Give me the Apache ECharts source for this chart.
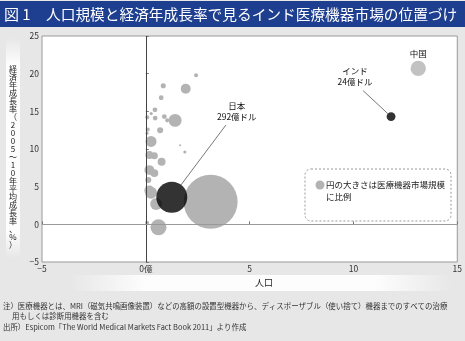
<!DOCTYPE html>
<html>
<head>
<meta charset="utf-8">
<script src="https://cdn.jsdelivr.net/npm/echarts@6/dist/echarts.min.js"></script>
<style>
  html, body { margin: 0; padding: 0; background: #e7e7e7; }
  #chart { width: 465px; height: 341px; }
</style>
</head>
<body>
<div id="chart"></div>
<script>
// Population (100 million), annual growth 2005-10 (%), medical device market (100 million USD)
const otherPop    = [2.42, 0.84, 1.92, 0.74, 0.44, 0.26, 0.07, 0.45, 0.89, 1.03, 1.41, 0.09, 0.06, 0.69, 0.25, 1.65, 1.88, 0.17, 0.41, 0.76, 0.17, 0.41, 0.12, 0.17, 0.25, 0.50, 3.12, 0.61, 0.06];
const otherGrowth = [19.8, 18.4, 18.0, 16.8, 15.2, 14.7, 14.2, 14.1, 14.3, 13.8, 13.8, 12.6, 12.1, 12.5, 11.0, 10.5, 9.6, 9.2, 9.1, 8.3, 7.2, 6.8, 5.9, 4.5, 4.2, 2.7, 3.0, -0.4, 0.2];
const otherMarket = [5, 8, 30, 7, 7, 3, 5, 7, 7, 5, 51, 5, 3, 11, 37, 1.2, 3, 19, 15, 19, 30, 19, 11, 30, 44, 44, 886, 78, 5];

const namedCountries = ['中国', 'インド', '日本'];
const namedPop       = [13.12, 11.81, 1.25];
const namedGrowth    = [20.7, 14.3, 3.6];
const namedMarket    = [72, 24, 292];
const namedShowValue = [false, true, true];

const xTicks = [-5, 0, 5, 10, 15];
const yTicks = [-5, 0, 5, 10, 15, 20, 25];

const yAxisTitle = '経済年成長率（2005～10年平均成長率、%）';
const xAxisTitle = '人口';
const figureNo = '図 1';
const chartTitle = '人口規模と経済年成長率で見るインド医療機器市場の位置づけ';
const legendText = ['円の大きさは医療機器市場規模', 'に比例'];
const notes = [
  '注）医療機器とは、MRI（磁気共鳴画像装置）などの高額の設置型機器から、ディスポーザブル（使い捨て）機器までのすべての治療',
  '　 用もしくは診断用機器を含む',
  '出所）Espicom「The World Medical Markets Fact Book 2011」より作成'
];

const FONT = '"Noto Sans CJK JP", "Noto Sans", sans-serif';
const GRAY = '#b3b3b3';
const sizeOf = v => 1.814 * Math.sqrt(v);   // bubble area proportional to market size

const others = otherPop.map((x, i) => [x, otherGrowth[i], otherMarket[i]]);
const named = namedPop.map((x, i) => ({
  name: namedCountries[i],
  value: [x, namedGrowth[i], namedMarket[i]],
  itemStyle: { color: i === 0 ? GRAY : '#000' }
}));

const chart = echarts.init(document.getElementById('chart'), null, { renderer: 'canvas' });

chart.setOption({
  backgroundColor: '#e7e7e7',
  animation: false,
  grid: {
    left: 42, right: 5, top: 36, bottom: 79,
    show: true, backgroundColor: '#fff', borderColor: '#9a9a9a', borderWidth: 1
  },
  xAxis: {
    type: 'value', min: -5, max: 15, interval: 5,
    axisLine: { show: false },
    axisTick: { show: true, inside: true, length: 3, lineStyle: { color: '#777' } },
    splitLine: { show: false },
    axisLabel: {
      color: '#333', fontSize: 8.5, fontFamily: FONT, margin: 3,
      formatter: v => (xTicks.includes(v) ? (v === 0 ? '0億' : String(v).replace('-', '−')) : '')
    }
  },
  yAxis: {
    type: 'value', min: -5, max: 25, interval: 5,
    axisLine: { show: false },
    axisTick: { show: true, inside: true, length: 3, lineStyle: { color: '#777' } },
    splitLine: { show: false },
    axisLabel: {
      color: '#333', fontSize: 8.5, fontFamily: FONT, margin: 3,
      formatter: v => (yTicks.includes(v) ? String(v).replace('-', '−') : '')
    }
  },
  series: [
    {
      type: 'scatter',
      data: others,
      symbolSize: d => sizeOf(d[2]),
      itemStyle: { color: GRAY, opacity: 1 },
      silent: true, z: 2
    },
    {
      type: 'scatter',
      data: named,
      symbolSize: d => sizeOf(d[2]),
      silent: true, z: 3
    },
    {
      type: 'scatter',
      data: [],
      z: 5,
      markLine: {
        silent: true, symbol: 'none', label: { show: false }, animation: false,
        data: [
          { xAxis: 0, lineStyle: { color: '#444', width: 1, type: 'solid' } },
          { yAxis: 0, lineStyle: { color: '#999', width: 1.2, type: 'solid' } }
        ]
      }
    }
  ]
});

// Static decorations and annotations placed from the axes' own coordinate conversion
const px = (x, y) => chart.convertToPixel({ gridIndex: 0 }, [x, y]);

const graphics = [
  { type: 'rect', z: -1, shape: { x: 0, y: 1, width: 465, height: 26 }, style: { fill: '#1e3f8f' } },
  {
    type: 'text', x: 4, y: 14.5,
    style: { text: figureNo, fill: '#fff', fontSize: 15, fontFamily: FONT, align: 'left', verticalAlign: 'middle' }
  },
  {
    type: 'text', x: 46, y: 14.5,
    style: { text: chartTitle, fill: '#fff', fontSize: 14.7, fontFamily: FONT, align: 'left', verticalAlign: 'middle' }
  },
  {
    type: 'rect', z: -1, shape: { x: 6, y: 38, width: 14, height: 220 },
    style: {
      fill: new echarts.graphic.LinearGradient(0, 0, 0, 1, [
        { offset: 0, color: '#e7e7e7' }, { offset: 0.12, color: '#fdfdfd' },
        { offset: 0.88, color: '#fdfdfd' }, { offset: 1, color: '#e7e7e7' }
      ])
    }
  },
  {
    type: 'text', x: 13, y: 157,
    style: {
      text: Array.from(yAxisTitle).join('\n'), fill: '#222', fontSize: 8, lineHeight: 8,
      fontFamily: FONT, align: 'center', verticalAlign: 'middle'
    }
  },
  {
    type: 'rect', z: -1, shape: { x: 70, y: 275, width: 382, height: 16 },
    style: {
      fill: new echarts.graphic.LinearGradient(0, 0, 1, 0, [
        { offset: 0, color: '#e7e7e7' }, { offset: 0.2, color: '#fdfdfd' },
        { offset: 0.8, color: '#fdfdfd' }, { offset: 1, color: '#e7e7e7' }
      ])
    }
  },
  {
    type: 'text', x: 264, y: 283,
    style: { text: xAxisTitle, fill: '#222', fontSize: 9, fontFamily: FONT, align: 'center', verticalAlign: 'middle' }
  }
];

notes.forEach((t, i) => {
  graphics.push({
    type: 'text', x: 3, y: 306 + i * 10.5,
    style: { text: t, fill: '#333', fontSize: 7.45, fontFamily: FONT, align: 'left', verticalAlign: 'middle' }
  });
});

// Legend box
graphics.push(
  {
    type: 'rect', z: 10, shape: { x: 305, y: 169, width: 146, height: 52, r: 6 },
    style: { fill: '#fff', stroke: '#9a9a9a', lineWidth: 1, lineDash: [2, 2] }
  },
  { type: 'circle', z: 11, shape: { cx: 320, cy: 185, r: 4.5 }, style: { fill: GRAY } },
  {
    type: 'text', z: 11, x: 326, y: 185,
    style: { text: legendText[0], fill: '#222', fontSize: 8.5, fontFamily: FONT, align: 'left', verticalAlign: 'middle' }
  },
  {
    type: 'text', z: 11, x: 326, y: 197,
    style: { text: legendText[1], fill: '#222', fontSize: 8.5, fontFamily: FONT, align: 'left', verticalAlign: 'middle' }
  }
);

// Country labels: offsets of the label anchor from the bubble centre
const labelOffsets = [[0, -15], [-28, -26], [54, -72]];
namedCountries.forEach((name, i) => {
  const c = px(namedPop[i], namedGrowth[i]);
  const r = sizeOf(namedMarket[i]) / 2;
  const [dx, dy] = labelOffsets[i];
  const ax = c[0] + dx, ay = c[1] + dy;
  const text = namedShowValue[i] ? name + '\n' + namedMarket[i] + '億ドル' : name;
  if (namedShowValue[i]) {
    const len = Math.hypot(dx, dy);
    graphics.push({
      type: 'line', z: 12,
      shape: { x1: ax, y1: ay, x2: c[0] + dx / len * r, y2: c[1] + dy / len * r },
      style: { stroke: '#555', lineWidth: 0.8 }
    });
    graphics.push({
      type: 'text', z: 12, x: ax + (i === 2 ? 11 : -8), y: ay - 3,
      style: { text, fill: '#111', fontSize: 8.5, lineHeight: 11, fontFamily: FONT, align: 'center', verticalAlign: 'bottom' }
    });
  } else {
    graphics.push({
      type: 'text', z: 12, x: ax, y: ay,
      style: { text, fill: '#111', fontSize: 8.5, fontFamily: FONT, align: 'center', verticalAlign: 'middle' }
    });
  }
});

chart.setOption({ graphic: graphics });
</script>
</body>
</html>
